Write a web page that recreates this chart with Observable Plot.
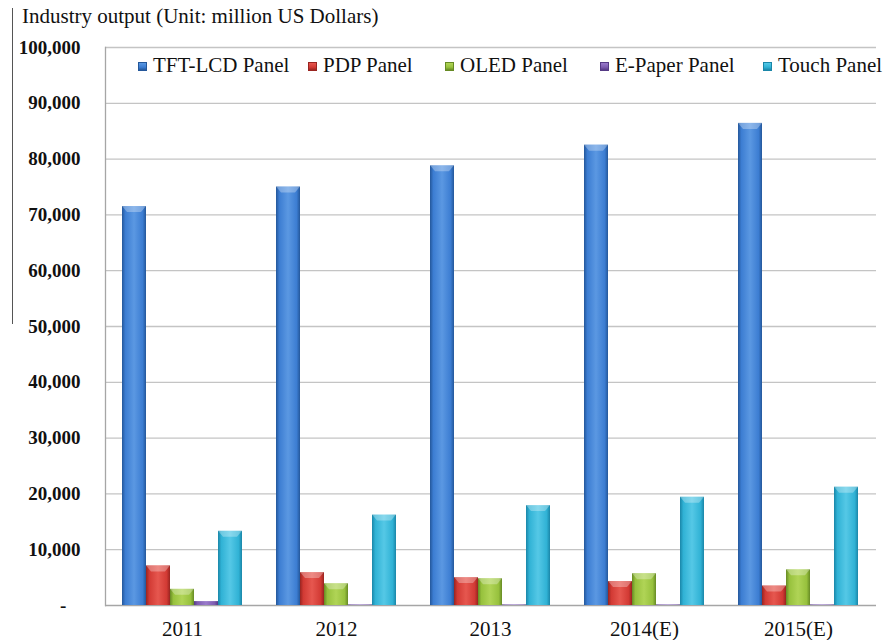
<!DOCTYPE html>
<html>
<head>
<meta charset="utf-8">
<script src="https://cdn.jsdelivr.net/npm/d3@7"></script>
<script src="https://cdn.jsdelivr.net/npm/@observablehq/plot@0.6"></script>
<style>
  html, body { margin: 0; padding: 0; background: #fff; }
  #wrap { position: relative; width: 883px; height: 640px; font-family: "Liberation Serif", "Times New Roman", serif; color: #111; }
  #grid, #chart { position: absolute; left: 0; top: 0; }
  #grid svg, #chart svg { display: block; }
  #title { position: absolute; left: 22px; top: 4px; font-size: 21px; white-space: nowrap; }
  #sideline { position: absolute; left: 12px; top: 8px; width: 0; height: 316px; border-left: 1px solid #555; }
  #legend { position: absolute; left: 0; top: 53px; height: 26px; width: 883px; font-size: 21px; }
  .item { position: absolute; top: 0; white-space: nowrap; display: flex; align-items: center; }
  .swatch { width: 9px; height: 9px; margin-right: 6px; margin-top: 2px; box-sizing: border-box; }
  #grid g[aria-label="y-axis tick label"] text { font-weight: bold; font-size: 19px; }
</style>
</head>
<body>
<div id="wrap">
  <div id="grid"></div>
  <div id="chart"></div>
  <div id="sideline"></div>
  <div id="title">Industry output (Unit: million US Dollars)</div>
  <div id="legend"></div>
</div>
<script>
// Panel industry output by technology, million US dollars
const years = ["2011", "2012", "2013", "2014(E)", "2015(E)"];
const series = ["TFT-LCD Panel", "PDP Panel", "OLED Panel", "E-Paper Panel", "Touch Panel"];
const tftLcd = [71500, 75000, 78800, 82500, 86400];
const pdp = [7100, 5900, 5000, 4300, 3500];
const oled = [2900, 3900, 4800, 5700, 6400];
const ePaper = [700, 100, 100, 100, 100];
const touch = [13300, 16200, 17900, 19400, 21200];
const yTicks = [0, 10000, 20000, 30000, 40000, 50000, 60000, 70000, 80000, 90000, 100000];

// base / dark edge / light centre for each series' bevelled bars
const palette = [
  {base: "#3c7dd2", dark: "#24579a", light: "#5b98e2"},
  {base: "#d23a34", dark: "#992420", light: "#e6574f"},
  {base: "#97c13d", dark: "#668a24", light: "#b0d456"},
  {base: "#7d5cb0", dark: "#553a85", light: "#9a7bcb"},
  {base: "#30b2d5", dark: "#1a86a8", light: "#55c8e6"}
];

const valuesBySeries = [tftLcd, pdp, oled, ePaper, touch];
const rows = [];
years.forEach((year, i) => {
  series.forEach((s, j) => rows.push({year, series: s, value: valuesBySeries[j][i]}));
});

const gradIds = series.map((_, i) => `bevel-${i}`);
const fmt = d3.format(",");

// shared frame geometry for the grid layer and the bar layer
const frame = {width: 883, height: 640, marginTop: 47, marginBottom: 35, marginLeft: 105, marginRight: 7};
const font = {fontFamily: "'Liberation Serif', 'Times New Roman', serif", fontSize: "21px", color: "#111", background: "transparent"};

// lighter bevelled cap on the top of each bar
function capBars(index, scales, values, dimensions, context, next) {
  const g = next(index, scales, values, dimensions, context);
  g.querySelectorAll("rect").forEach((r) => {
    const x = +r.getAttribute("x"), y = +r.getAttribute("y");
    const w = +r.getAttribute("width"), h = +r.getAttribute("height");
    if (!(h > 4)) return;
    const c = Math.min(6, h / 2), inset = Math.min(5, w / 4);
    const p = document.createElementNS("http://www.w3.org/2000/svg", "polygon");
    p.setAttribute("points", `${x},${y} ${x + w},${y} ${x + w - inset},${y + c} ${x + inset},${y + c}`);
    p.setAttribute("fill", "#ffffff");
    p.setAttribute("fill-opacity", "0.3");
    r.parentNode.insertBefore(p, r.nextSibling);
  });
  return g;
}

// background layer: gridlines, value axis, left edge and baseline
const grid = Plot.plot({
  ...frame,
  style: font,
  x: {domain: [0, 1], axis: null},
  y: {domain: [0, 100000], axis: null},
  marks: [
    Plot.ruleY(yTicks.slice(1), {stroke: "#c4c4c4", strokeWidth: 1.3}),
    Plot.ruleY([0], {stroke: "#a6a6a6", strokeWidth: 1.3}),
    Plot.frame({anchor: "left", stroke: "#a6a6a6", strokeWidth: 1.3}),
    Plot.axisY(yTicks, {
      tickSize: 0, tickPadding: 25, label: null,
      tickFormat: (d) => d === 0 ? "-\u00a0\u00a0\u00a0" : fmt(d)
    })
  ]
});
document.getElementById("grid").appendChild(grid);

// bar layer: one facet per year, one bar per panel type
const chart = Plot.plot({
  ...frame,
  style: font,
  fx: {domain: years, paddingInner: 0.22, paddingOuter: 0.11, label: null, tickSize: 0, tickPadding: 16, axis: "bottom"},
  x: {domain: series, axis: null, padding: 0},
  y: {domain: [0, 100000], axis: null},
  color: {domain: series, range: gradIds.map((id) => `url(#${id})`)},
  marks: [
    Plot.barY(rows, {fx: "year", x: "series", y: "value", fill: "series", render: capBars})
  ]
});

// horizontal bevel gradients used as bar fills
const svgNS = "http://www.w3.org/2000/svg";
const defs = document.createElementNS(svgNS, "defs");
palette.forEach((c, i) => {
  const lg = document.createElementNS(svgNS, "linearGradient");
  lg.setAttribute("id", gradIds[i]);
  lg.setAttribute("x1", "0"); lg.setAttribute("x2", "1");
  lg.setAttribute("y1", "0"); lg.setAttribute("y2", "0");
  [[0, c.dark], [0.14, c.base], [0.5, c.light], [0.86, c.base], [1, c.dark]].forEach(([o, col]) => {
    const st = document.createElementNS(svgNS, "stop");
    st.setAttribute("offset", o);
    st.setAttribute("stop-color", col);
    lg.appendChild(st);
  });
  defs.appendChild(lg);
});
chart.insertBefore(defs, chart.firstChild);
document.getElementById("chart").appendChild(chart);

// legend row
const legendLeft = [138, 308, 445, 600, 763];
const legend = document.getElementById("legend");
series.forEach((s, i) => {
  const item = document.createElement("div");
  item.className = "item";
  item.style.left = legendLeft[i] + "px";
  const sw = document.createElement("span");
  sw.className = "swatch";
  sw.style.background = `linear-gradient(180deg, ${palette[i].light}, ${palette[i].base} 60%, ${palette[i].dark})`;
  sw.style.border = `1px solid ${palette[i].dark}`;
  const label = document.createElement("span");
  label.textContent = s;
  item.appendChild(sw);
  item.appendChild(label);
  legend.appendChild(item);
});
</script>
</body>
</html>
